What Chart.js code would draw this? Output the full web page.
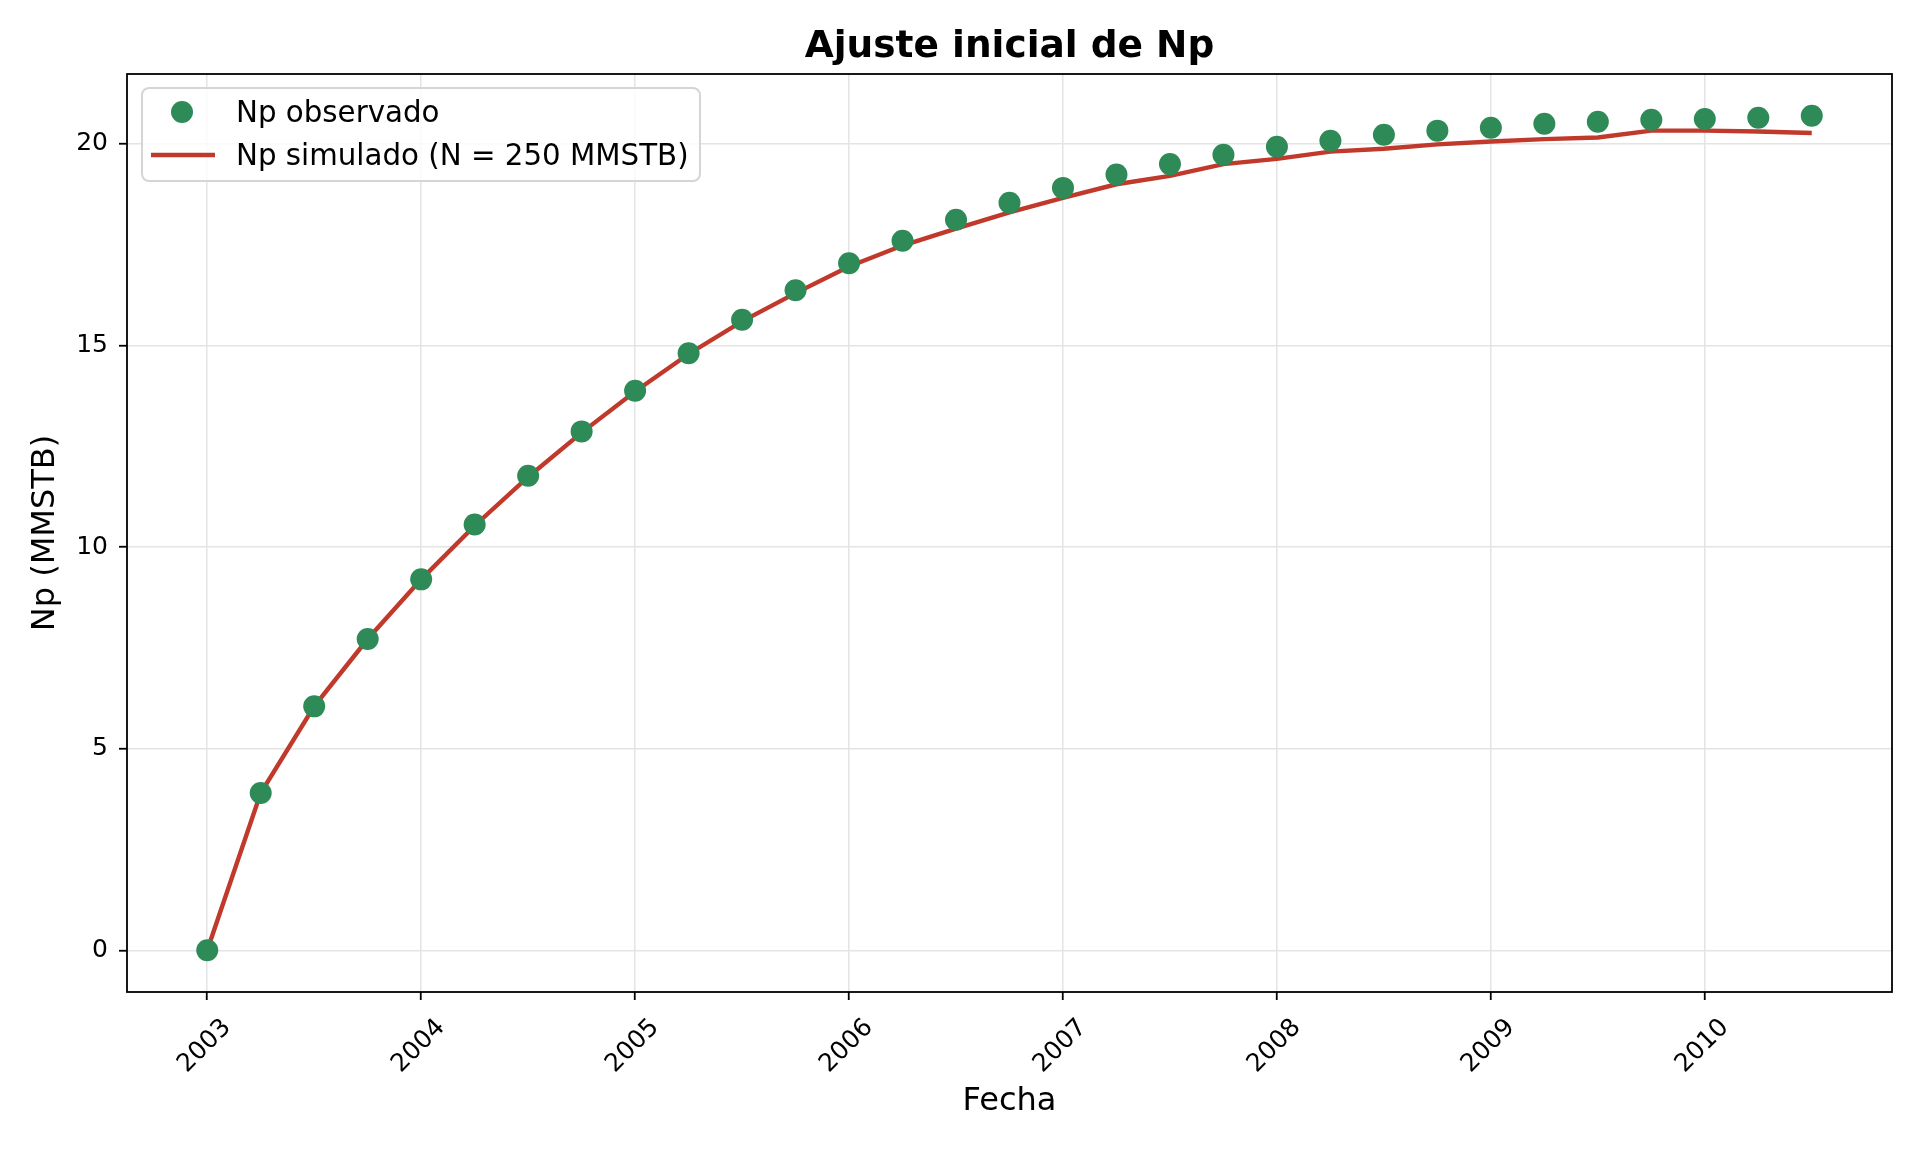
<!DOCTYPE html>
<html>
<head>
<meta charset="utf-8">
<title>Ajuste inicial de Np</title>
<script src="https://cdn.jsdelivr.net/npm/chart.js@4.4.1/dist/chart.umd.min.js"></script>
<style>
  html, body { margin: 0; padding: 0; background: #fff; }
</style>
</head>
<body>
<canvas id="npChart" width="1920" height="1152"></canvas>
<script>
// fechas trimestrales (año decimal)
var fechas = [2003, 2003.25, 2003.5, 2003.75, 2004, 2004.25, 2004.5, 2004.75,
              2005, 2005.25, 2005.5, 2005.75, 2006, 2006.25, 2006.5, 2006.75,
              2007, 2007.25, 2007.5, 2007.75, 2008, 2008.25, 2008.5, 2008.75,
              2009, 2009.25, 2009.5, 2009.75, 2010, 2010.25, 2010.5];
var npObservado = [0, 3.9, 6.05, 7.72, 9.2, 10.56, 11.77, 12.87,
                   13.88, 14.81, 15.64, 16.37, 17.04, 17.6, 18.12, 18.54,
                   18.91, 19.24, 19.5, 19.73, 19.93, 20.08, 20.23, 20.33,
                   20.4, 20.5, 20.55, 20.6, 20.62, 20.65, 20.7];
var npSimulado = [0, 3.9, 6.05, 7.72, 9.2, 10.53, 11.74, 12.84,
                  13.86, 14.79, 15.6, 16.3, 16.96, 17.48, 17.9, 18.3,
                  18.66, 19.0, 19.21, 19.5, 19.63, 19.81, 19.88, 19.99,
                  20.06, 20.12, 20.16, 20.33, 20.33, 20.31, 20.27];
var anios = [2003, 2004, 2005, 2006, 2007, 2008, 2009, 2010];
var yTicks = [0, 5, 10, 15, 20];
var titulo = 'Ajuste inicial de Np';

var verde = '#2E8B57';
var rojo = '#C0392B';
var fuente = "'DejaVu Sans', sans-serif";

function toPoints(xs, ys) {
    var pts = [];
    for (var i = 0; i < xs.length; i++) {
        pts.push({ x: xs[i], y: ys[i] });
    }
    return pts;
}

// marco completo del área de ejes (como matplotlib)
var framePlugin = {
    id: 'frame',
    afterDatasetsDraw: function (chart) {
        var a = chart.chartArea;
        var ctx = chart.ctx;
        ctx.save();
        ctx.strokeStyle = '#000';
        ctx.lineWidth = 1.8;
        ctx.strokeRect(a.left, a.top, a.right - a.left, a.bottom - a.top);
        ctx.restore();
    }
};

// título centrado sobre el área de ejes
var titlePlugin = {
    id: 'axesTitle',
    afterDraw: function (chart) {
        var a = chart.chartArea;
        var ctx = chart.ctx;
        ctx.save();
        ctx.fillStyle = '#000';
        ctx.font = 'bold 37.5px ' + fuente;
        ctx.textAlign = 'center';
        ctx.textBaseline = 'middle';
        ctx.fillText(titulo, (a.left + a.right) / 2, 47);
        ctx.restore();
    }
};

// leyenda dentro del gráfico, arriba a la izquierda
var legendPlugin = {
    id: 'boxLegend',
    afterDraw: function (chart) {
        var ctx = chart.ctx;
        var ds = chart.data.datasets;
        var x = 142, y = 88, w = 558, h = 93, r = 7;
        ctx.save();
        ctx.beginPath();
        ctx.roundRect(x, y, w, h, r);
        ctx.fillStyle = 'rgba(255,255,255,0.8)';
        ctx.fill();
        ctx.strokeStyle = '#d5d5d5';
        ctx.lineWidth = 2;
        ctx.stroke();

        // observado: marcador
        ctx.beginPath();
        ctx.arc(182, 112, 11, 0, Math.PI * 2);
        ctx.fillStyle = ds[0].backgroundColor;
        ctx.fill();
        // simulado: línea
        ctx.beginPath();
        ctx.moveTo(151, 155);
        ctx.lineTo(215, 155);
        ctx.strokeStyle = ds[1].borderColor;
        ctx.lineWidth = 4.4;
        ctx.stroke();

        ctx.fillStyle = '#000';
        ctx.font = '29.3px ' + fuente;
        ctx.textBaseline = 'middle';
        ctx.textAlign = 'left';
        ctx.fillText(ds[0].label, 236, 114);
        ctx.fillText(ds[1].label, 236, 157);
        ctx.restore();
    }
};

var ctx = document.getElementById('npChart').getContext('2d');
var npChart = new Chart(ctx, {
    type: 'line',
    data: {
        datasets: [{
            label: 'Np observado',
            data: toPoints(fechas, npObservado),
            showLine: false,
            pointRadius: 11,
            pointHoverRadius: 11,
            pointBorderWidth: 0,
            backgroundColor: verde,
            borderColor: verde
        }, {
            label: 'Np simulado (N = 250 MMSTB)',
            data: toPoints(fechas, npSimulado),
            borderColor: rojo,
            backgroundColor: rojo,
            borderWidth: 4.4,
            pointRadius: 0,
            tension: 0
        }]
    },
    options: {
        responsive: false,
        animation: false,
        devicePixelRatio: 1,
        layout: { padding: { left: 0, right: 28, top: 74, bottom: 0 } },
        plugins: {
            legend: { display: false },
            tooltip: { enabled: false },
            title: { display: false }
        },
        scales: {
            x: {
                type: 'linear',
                min: 2002.625,
                max: 2010.875,
                afterBuildTicks: function (scale) {
                    scale.ticks = anios.map(function (v) { return { value: v }; });
                },
                afterFit: function (scale) { scale.height = 160; },
                border: { display: false },
                grid: {
                    color: '#e4e4e4',
                    lineWidth: 1.5,
                    tickColor: '#000',
                    tickLength: 8,
                    tickWidth: 1.8
                },
                ticks: {
                    color: '#000',
                    font: { family: fuente, size: 25 },
                    minRotation: 45,
                    maxRotation: 45,
                    labelOffset: 20,
                    padding: 13,
                    callback: function (v) { return String(v); }
                },
                title: {
                    display: true,
                    text: 'Fecha',
                    color: '#000',
                    font: { family: fuente, size: 32, lineHeight: 1.2 },
                    padding: { top: 0, bottom: 31 }
                }
            },
            y: {
                min: -1.035,
                max: 21.735,
                afterBuildTicks: function (scale) {
                    scale.ticks = yTicks.map(function (v) { return { value: v }; });
                },
                afterFit: function (scale) { scale.width = 127; },
                border: { display: false },
                grid: {
                    color: '#e4e4e4',
                    lineWidth: 1.5,
                    tickColor: '#000',
                    tickLength: 8,
                    tickWidth: 1.8
                },
                ticks: {
                    color: '#000',
                    font: { family: fuente, size: 25 },
                    padding: 11
                },
                title: {
                    display: true,
                    text: 'Np (MMSTB)',
                    color: '#000',
                    font: { family: fuente, size: 32, lineHeight: 1.2 },
                    padding: { top: 26, bottom: 0 }
                }
            }
        }
    },
    plugins: [framePlugin, titlePlugin, legendPlugin]
});
</script>
</body>
</html>
